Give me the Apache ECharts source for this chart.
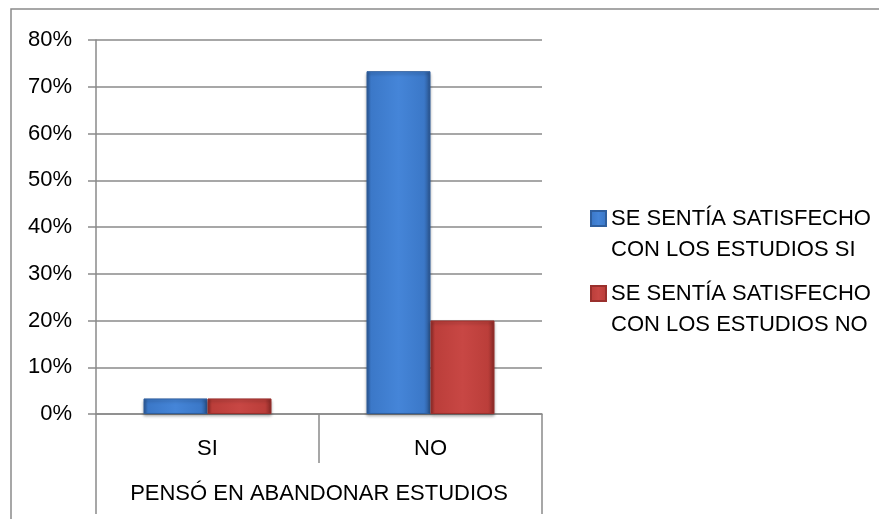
<!DOCTYPE html>
<html>
<head>
<meta charset="utf-8">
<script src="https://cdn.jsdelivr.net/npm/echarts@6/dist/echarts.min.js"></script>
<style>
html,body{margin:0;padding:0;background:#fff;}
#chart{width:879px;height:519px;}
</style>
</head>
<body>
<div id="chart"></div>
<script>
var categories = ['SI', 'NO'];
var groupLabel = ['PENSÓ EN ABANDONAR ESTUDIOS'];
var seriesNames = ['SE SENTÍA SATISFECHO CON LOS ESTUDIOS SI', 'SE SENTÍA SATISFECHO CON LOS ESTUDIOS NO'];
var satisfiedYes = [0.0333, 0.7333];
var satisfiedNo = [0.0333, 0.20];
var yTicks = { min: 0, max: 0.8, interval: 0.1 };

var FONT = '"Liberation Sans", Arial, sans-serif';
var FS = 22;
var GRAY = '#8a8a8a';

function grad(dark, main, light) {
  return new echarts.graphic.LinearGradient(0, 0, 1, 0, [
    { offset: 0, color: dark },
    { offset: 0.07, color: main },
    { offset: 0.5, color: light },
    { offset: 0.9, color: main },
    { offset: 1, color: dark }
  ]);
}

var chart = echarts.init(document.getElementById('chart'), null, { renderer: 'canvas' });
var option = {
  animation: false,
  backgroundColor: '#ffffff',
  textStyle: { fontFamily: FONT },
  graphic: [{
    type: 'rect',
    silent: true,
    shape: { x: 11, y: 9, width: 1000, height: 1000 },
    style: { fill: 'none', stroke: GRAY, lineWidth: 1.5 }
  }],
  grid: { left: 96, right: 337, top: 40, bottom: 105 },
  legend: {
    orient: 'vertical',
    left: 585,
    top: 167,
    itemWidth: 15,
    itemHeight: 15,
    itemGap: -18,
    icon: 'rect',
    formatter: function (n) { return '\n' + n.replace(' CON', '\nCON'); },
    textStyle: { fontFamily: FONT, fontSize: FS, color: '#000', lineHeight: 31 }
  },
  xAxis: [{
    type: 'category',
    data: categories,
    position: 'bottom',
    axisLine: { show: true, lineStyle: { color: GRAY, width: 1.5 } },
    axisTick: { show: true, interval: 0, length: 49, lineStyle: { color: GRAY, width: 1.5 } },
    axisLabel: { margin: 24, fontSize: FS, color: '#000', fontFamily: FONT }
  }, {
    type: 'category',
    data: groupLabel,
    position: 'bottom',
    axisLine: { show: false },
    axisTick: { show: true, interval: 0, length: 100, lineStyle: { color: GRAY, width: 1.5 } },
    axisLabel: { margin: 69, fontSize: FS, color: '#000', fontFamily: FONT }
  }],
  yAxis: {
    type: 'value',
    min: yTicks.min,
    max: yTicks.max,
    interval: yTicks.interval,
    axisLine: { show: true, lineStyle: { color: GRAY, width: 1.5 } },
    axisTick: { show: true, length: 8, lineStyle: { color: GRAY, width: 1.5 } },
    splitLine: { show: true, lineStyle: { color: GRAY, width: 1.5 } },
    axisLabel: {
      margin: 24, fontSize: FS, color: '#000', fontFamily: FONT,
      formatter: function (v) { return Math.round(v * 100) + '%'; }
    }
  },
  series: [{
    name: seriesNames[0],
    type: 'bar',
    xAxisIndex: 0,
    data: satisfiedYes,
    barWidth: 64,
    barGap: '0%',
    itemStyle: {
      color: grad('#2b558f', '#3b78c8', '#4585d8'),
      borderColor: '#2f5f9e',
      borderWidth: 1,
      shadowColor: 'rgba(0,0,0,0.3)', shadowBlur: 3, shadowOffsetY: 2
    }
  }, {
    name: seriesNames[1],
    type: 'bar',
    xAxisIndex: 0,
    data: satisfiedNo,
    barWidth: 64,
    barGap: '0%',
    itemStyle: {
      color: grad('#8a2a27', '#bb3e3a', '#c84744'),
      borderColor: '#9a302d',
      borderWidth: 1,
      shadowColor: 'rgba(0,0,0,0.3)', shadowBlur: 3, shadowOffsetY: 2
    }
  }]
};
chart.setOption(option);
</script>
</body>
</html>
